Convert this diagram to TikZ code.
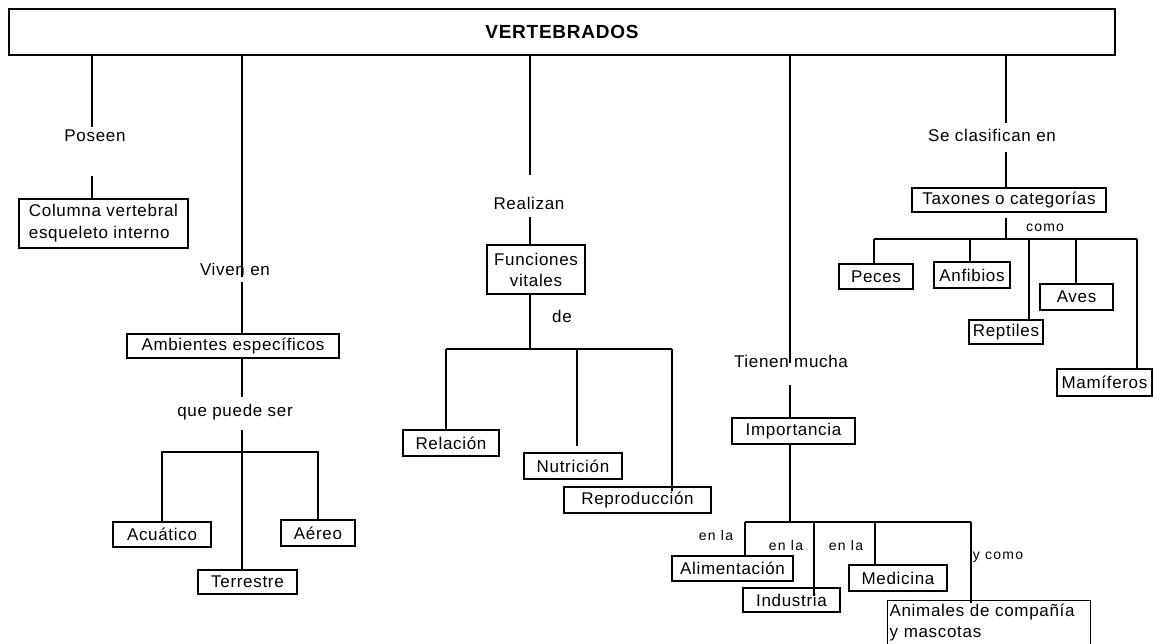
\documentclass[tikz,border=0pt]{standalone}
\usepackage{fontspec}
\setmainfont{Liberation Sans}[LetterSpace=4]
\newfontfamily\smallfont{Liberation Sans}[LetterSpace=9]
\begin{document}
\begin{tikzpicture}[x=1pt,y=-1pt,
  every node/.style={font=\fontsize{17}{21}\selectfont},
  box/.style={draw, line width=1.2pt, inner sep=0pt},
  lab/.style={inner sep=0pt, text height=12pt, text depth=4pt},
  sm/.style={inner sep=0pt, font=\smallfont\fontsize{14}{16}\selectfont},
  conn/.style={line width=1.2pt}]
\useasboundingbox (0,0) rectangle (1153,643);

% column x positions
\coordinate (xa) at (92,0);
\coordinate (xb) at (242,0);
\coordinate (xc) at (530,0);
\coordinate (xd) at (790,0);
\coordinate (xe) at (1006,0);

% title
\node[box, line width=2.5pt, minimum width=1106pt, minimum height=46pt,
      font=\bfseries\fontsize{19}{22}\selectfont] (top) at (562,32) {VERTEBRADOS};

% Poseen
\node[lab] (poseen) at (95,137) {Poseen};
\node[box, minimum width=169pt, minimum height=49pt, align=left,
      font=\fontsize{17}{22}\selectfont] (columna) at (103.5,223.5) {Columna vertebral\\esqueleto interno};
\draw[conn, shorten >=2pt] (top.south -| xa) -- (poseen.north -| xa);
\draw[conn, shorten <=31pt] (poseen.south -| xa) -- (columna.north -| xa);

% Viven en
\node[lab] (viven) at (235,271) {Viven en};
\node[box, minimum width=212pt, minimum height=24pt] (ambientes) at (233,346) {Ambientes específicos};
\node[lab] (que) at (235,412) {que puede ser};
\node[box, minimum width=98pt, minimum height=25pt] (acuatico) at (162,534.5) {Acuático};
\node[box, minimum width=74pt, minimum height=26pt] (aereo) at (318,533) {Aéreo};
\node[box, minimum width=99pt, minimum height=24pt] (terrestre) at (247.5,582) {Terrestre};
\coordinate (jb) at (242,452);
\draw[conn, shorten >=2pt] (top.south -| xb) -- (viven.south -| xb);
\draw[conn, shorten <=3pt] (viven.south -| xb) -- (ambientes.north -| xb);
\draw[conn, shorten >=7pt] (ambientes.south -| xb) -- (que.north -| xb);
\draw[conn, shorten <=10pt] (que.south -| xb) -- (terrestre.north -| xb);
\draw[conn] (acuatico.north) |- (jb) -| (aereo.north);

% Realizan
\node[lab] (realizan) at (529,205) {Realizan};
\node[box, minimum width=98pt, minimum height=49pt, align=center,
      font=\fontsize{17}{21}\selectfont] (funciones) at (536,269.5) {Funciones\\vitales};
\node[lab] (de) at (562,318) {de};
\node[box, minimum width=96pt, minimum height=26pt] (relacion) at (451,443) {Relación};
\node[box, minimum width=98pt, minimum height=26pt] (nutricion) at (573,466) {Nutrición};
\node[box, minimum width=147pt, minimum height=26pt] (repro) at (637.5,500) {Reproducción};
\coordinate (r1) at (446,349);
\coordinate (r3) at (672,349);
\coordinate (n1) at (577,349);
\coordinate (n2) at (577,446);
\draw[conn, shorten >=22pt] (top.south -| xc) -- (realizan.north -| xc);
\draw[conn, shorten <=4pt] (realizan.south -| xc) -- (funciones.north -| xc);
\draw[conn] (funciones.south -| xc) -- (xc |- r1);
\draw[conn] (r1) -- (r3);
\draw[conn] (r1) -- (relacion.north -| r1);
\draw[conn] (n1) -- (n2);
\draw[conn, shorten >=-5pt] (r3) -- (repro.north -| r3);

% Tienen mucha
\node[lab] (tienen) at (791,363) {Tienen mucha};
\node[box, minimum width=123pt, minimum height=26pt] (importancia) at (793.5,431) {Importancia};
\node[box, minimum width=121pt, minimum height=25pt] (alim) at (732.5,568.5) {Alimentación};
\node[box, minimum width=97pt, minimum height=24pt] (indus) at (791.5,600) {Industria};
\node[box, minimum width=98pt, minimum height=26pt] (medicina) at (898,578) {Medicina};
\node[box, anchor=north west, align=left, inner xsep=2pt, inner ysep=3pt, text width=199pt]
   (animales) at (887,600) {Animales de compañía\\y mascotas\\\strut};
\node[sm] (enla1) at (716,535) {en la};
\node[sm] (enla2) at (786,545) {en la};
\node[sm] (enla3) at (846,545) {en la};
\node[sm] (ycomo) at (998,557) {y como};
\coordinate (i1) at (745,522);
\coordinate (i2) at (814,522);
\coordinate (i3) at (875,522);
\coordinate (i4) at (971,522);
\draw[conn] (top.south -| xd) -- (tienen.center -| xd);
\draw[conn, shorten <=14pt] (tienen.south -| xd) -- (importancia.north -| xd);
\draw[conn] (importancia.south -| xd) -- (xd |- i1);
\draw[conn] (i1) -- (i4);
\draw[conn] (i1) -- (alim.north -| i1);
\draw[conn, shorten >=-9pt] (i2) -- (indus.north -| i2);
\draw[conn] (i3) -- (medicina.north -| i3);
\draw[conn, shorten >=-3pt] (i4) -- (animales.north -| i4);

% Se clasifican en
\node[lab] (clasif) at (992,137) {Se clasifican en};
\node[box, minimum width=194pt, minimum height=24pt] (taxones) at (1009,200) {Taxones o categorías};
\node[sm] (como) at (1045,228) {como};
\node[box, minimum width=74pt, minimum height=25pt] (peces) at (876,276.5) {Peces};
\node[box, minimum width=76pt, minimum height=26pt] (anfibios) at (972,275) {Anfibios};
\node[box, minimum width=73pt, minimum height=26pt] (aves) at (1076.5,297) {Aves};
\node[box, minimum width=74pt, minimum height=24pt] (reptiles) at (1006,332) {Reptiles};
\node[box, minimum width=95pt, minimum height=27pt] (mamiferos) at (1104.5,382.5) {Mamíferos};
\coordinate (t1) at (874,239);
\coordinate (t2) at (970,239);
\coordinate (t3) at (1029,239);
\coordinate (t4) at (1076,239);
\coordinate (t5) at (1137,239);
\draw[conn, shorten >=6pt] (top.south -| xe) -- (clasif.north -| xe);
\draw[conn, shorten <=7pt] (clasif.south -| xe) -- (taxones.north -| xe);
\draw[conn, shorten <=5pt] (taxones.south -| xe) -- (xe |- t1);
\draw[conn] (t1) -- (t5);
\draw[conn] (t1) -- (peces.north -| t1);
\draw[conn] (t2) -- (anfibios.north -| t2);
\draw[conn] (t3) -- (reptiles.north -| t3);
\draw[conn] (t4) -- (aves.north -| t4);
\draw[conn] (t5) -- (mamiferos.north -| t5);
\end{tikzpicture}
\end{document}
